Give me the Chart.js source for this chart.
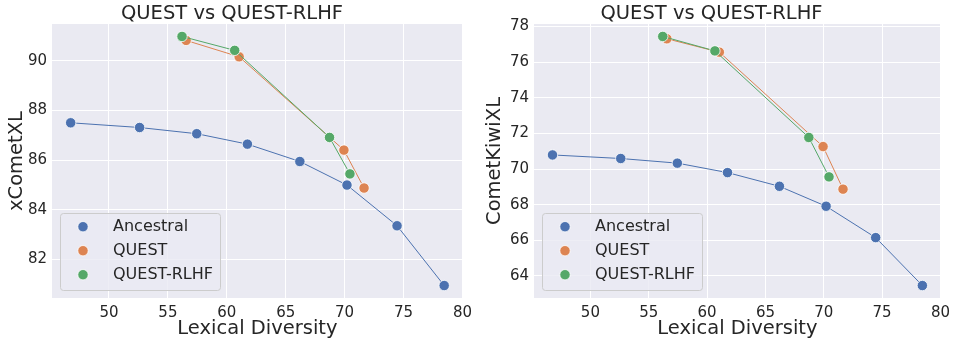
<!DOCTYPE html>
<html>
<head>
<meta charset="utf-8">
<script src="https://cdn.jsdelivr.net/npm/chart.js@4/dist/chart.umd.min.js"></script>
<style>
  html, body { margin: 0; padding: 0; background: #ffffff; }
  .wrap { position: absolute; top: 0; width: 478px; height: 339px; }
  #w1 { left: 0; }
  #w2 { left: 478px; }
</style>
</head>
<body>
<div class="wrap" id="w1"><canvas id="c1" width="478" height="339"></canvas></div>
<div class="wrap" id="w2"><canvas id="c2" width="478" height="339"></canvas></div>
<script>
// ---- data ----
const seriesNames = ["Ancestral", "QUEST", "QUEST-RLHF"];
const chartTitle = "QUEST vs QUEST-RLHF";
const xLabel = "Lexical Diversity";
const yLabelLeft = "xCometXL";
const yLabelRight = "CometKiwiXL";

const ancestralX = [46.75, 52.6, 57.45, 61.75, 66.2, 70.2, 74.45, 78.45];
const questX     = [56.55, 61.05, 69.94, 71.65];
const rlhfX      = [56.2, 60.67, 68.72, 70.45];

const ancestralXComet = [87.5, 87.31, 87.06, 86.64, 85.94, 84.99, 83.35, 80.94];
const questXComet     = [90.82, 90.16, 86.40, 84.87];
const rlhfXComet      = [90.98, 90.42, 86.91, 85.44];

const ancestralKiwi = [70.79, 70.59, 70.33, 69.8, 69.03, 67.91, 66.15, 63.46];
const questKiwi     = [77.31, 76.56, 71.26, 68.87];
const rlhfKiwi      = [77.44, 76.63, 71.77, 69.56];

const xTicks = [50, 55, 60, 65, 70, 75, 80];
const yTicksLeft = [82, 84, 86, 88, 90];
const yTicksRight = [64, 66, 68, 70, 72, 74, 76, 78];

// ---- style ----
const colors = ["#4C72B0", "#DD8452", "#55A868"];
const FONT = "'DejaVu Sans', sans-serif";
const TEXT = "#262626";
const BG = "#EAEAF2";

function pts(xs, ys) { return xs.map((x, i) => ({ x: x, y: ys[i] })); }
function padRange(arrs) {
  const all = [].concat(...arrs);
  const mn = Math.min(...all), mx = Math.max(...all);
  const r = mx - mn;
  return [mn - 0.05 * r, mx + 0.05 * r];
}

const bgPlugin = {
  id: 'bgArea',
  beforeDraw(chart) {
    const { ctx, chartArea: a } = chart;
    ctx.save();
    ctx.fillStyle = BG;
    ctx.fillRect(a.left, a.top, a.right - a.left, a.bottom - a.top);
    ctx.restore();
  }
};

const legendPlugin = {
  id: 'innerLegend',
  afterDatasetsDraw(chart) {
    const { ctx, chartArea: a } = chart;
    const w = 160, h = 77;
    const x0 = a.left + 8, y0 = a.bottom - 8 - h;
    ctx.save();
    ctx.beginPath();
    if (ctx.roundRect) ctx.roundRect(x0 + 0.5, y0 + 0.5, w, h, 3); else ctx.rect(x0 + 0.5, y0 + 0.5, w, h);
    ctx.fillStyle = "rgba(234,234,242,0.8)";
    ctx.fill();
    ctx.strokeStyle = "#cccccc";
    ctx.lineWidth = 1;
    ctx.stroke();
    chart.data.datasets.forEach((ds, i) => {
      const cy = y0 + 13.7 + i * 24;
      ctx.beginPath();
      ctx.arc(x0 + 23, cy, 5.2, 0, Math.PI * 2);
      ctx.fillStyle = ds.backgroundColor;
      ctx.fill();
      ctx.strokeStyle = "#ffffff";
      ctx.lineWidth = 0.8;
      ctx.stroke();
      ctx.fillStyle = TEXT;
      ctx.font = "16px " + FONT;
      ctx.textBaseline = "middle";
      ctx.textAlign = "left";
      ctx.fillText(ds.label, x0 + 53, cy + 0.5);
    });
    ctx.restore();
  }
};

function makeChart(id, yLabel, ys, yTicks, yAxisWidth, padRight) {
  const xr = padRange([ancestralX, questX, rlhfX]);
  const yr = padRange(ys);
  const xsAll = [ancestralX, questX, rlhfX];
  const datasets = seriesNames.map((name, i) => ({
    label: name,
    data: pts(xsAll[i], ys[i]),
    showLine: true,
    borderColor: colors[i],
    backgroundColor: colors[i],
    borderWidth: 1,
    pointRadius: 5.2,
    pointHoverRadius: 5.2,
    pointBorderColor: "#ffffff",
    pointBorderWidth: 0.8,
    pointBackgroundColor: colors[i],
    order: 2 - i
  }));
  return new Chart(document.getElementById(id), {
    type: 'scatter',
    data: { datasets },
    plugins: [bgPlugin, legendPlugin],
    options: {
      responsive: false,
      animation: false,
      devicePixelRatio: 1,
      layout: { padding: { left: 0, right: padRight, top: 0, bottom: 0 } },
      plugins: {
        legend: { display: false },
        tooltip: { enabled: false },
        title: {
          display: true,
          text: chartTitle,
          color: TEXT,
          font: { family: FONT, size: 19.5, weight: 'normal', lineHeight: 1.0 },
          padding: { top: 4, bottom: 0.5 }
        }
      },
      scales: {
        x: {
          type: 'linear',
          min: xr[0], max: xr[1],
          afterBuildTicks: (s) => { s.ticks = xTicks.map(v => ({ value: v })); },
          afterFit: (s) => { s.height = 41; },
          ticks: { color: TEXT, font: { family: FONT, size: 15 }, padding: 6, maxRotation: 0 },
          grid: { color: "#ffffff", lineWidth: 1, drawTicks: false },
          border: { display: false },
          title: { display: true, text: xLabel, color: TEXT, font: { family: FONT, size: 19.5, lineHeight: 1.0 }, padding: { top: 0, bottom: 0 } }
        },
        y: {
          type: 'linear',
          min: yr[0], max: yr[1],
          afterBuildTicks: (s) => { s.ticks = yTicks.map(v => ({ value: v })); },
          afterFit: (s) => { s.width = yAxisWidth; },
          ticks: { color: TEXT, font: { family: FONT, size: 15 }, padding: 5 },
          grid: { color: "#ffffff", lineWidth: 1, drawTicks: false },
          border: { display: false },
          title: { display: true, text: yLabel, color: TEXT, font: { family: FONT, size: 19.5, lineHeight: 1.2 }, padding: { top: 4.8, bottom: 0 } }
        }
      }
    }
  });
}

makeChart('c1', yLabelLeft, [ancestralXComet, questXComet, rlhfXComet], yTicksLeft, 52, 14);
makeChart('c2', yLabelRight, [ancestralKiwi, questKiwi, rlhfKiwi], yTicksRight, 56, 11);
</script>
</body>
</html>
